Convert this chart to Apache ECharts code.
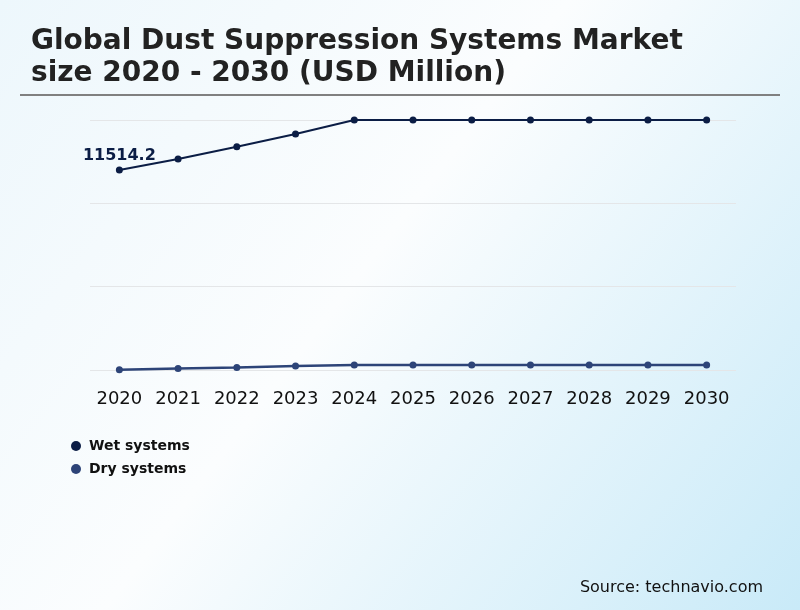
<!DOCTYPE html>
<html>
<head>
<meta charset="utf-8">
<script src="https://cdn.jsdelivr.net/npm/echarts@6/dist/echarts.min.js"></script>
<style>
html,body{margin:0;padding:0;}
#chart{width:800px;height:610px;}
</style>
</head>
<body>
<div id="chart"></div>
<script>
const years = ['2020','2021','2022','2023','2024','2025','2026','2027','2028','2029','2030'];
const wetSystems = [11514.2, 12150, 12860, 13590, 14400, 14400, 14400, 14400, 14400, 14400, 14400];
const drySystems = [20, 90, 150, 230, 290, 290, 290, 290, 290, 290, 290];
const seriesNames = ['Wet systems', 'Dry systems'];
const titleText = 'Global Dust Suppression Systems Market\nsize 2020 - 2030 (USD Million)';
const sourceText = 'Source: technavio.com';

const chart = echarts.init(document.getElementById('chart'));
const wetColor = '#0b1d45';
const dryColor = '#2d4478';

chart.setOption({
  backgroundColor: new echarts.graphic.LinearGradient(0, 0, 1, 1, [
    {offset: 0, color: '#edf7fc'},
    {offset: 0.45, color: '#fbfdfe'},
    {offset: 1, color: '#c9eaf8'}
  ]),
  textStyle: {fontFamily: 'DejaVu Sans'},
  title: {
    text: titleText,
    left: 26,
    top: 21,
    textStyle: {fontFamily: 'DejaVu Sans', fontWeight: 'bold', fontSize: 28, lineHeight: 32, color: '#222222'}
  },
  graphic: [
    {type: 'line', shape: {x1: 20, y1: 95, x2: 780, y2: 95}, style: {stroke: '#808080', lineWidth: 2}},
    {type: 'text', right: 37, top: 580, style: {text: sourceText, fontFamily: 'DejaVu Sans', fontSize: 16, fill: '#111111'}}
  ],
  legend: {
    orient: 'vertical',
    left: 66,
    top: 434,
    itemGap: 9,
    itemWidth: 16,
    itemHeight: 10,
    icon: 'circle',
    data: seriesNames,
    textStyle: {fontFamily: 'DejaVu Sans', fontWeight: 'bold', fontSize: 14, color: '#111111'}
  },
  grid: {left: 90, right: 64, top: 120, bottom: 240},
  xAxis: {
    type: 'category',
    data: years,
    boundaryGap: true,
    axisLine: {show: false},
    axisTick: {show: false},
    axisLabel: {interval: 0, fontSize: 18, color: '#111111', margin: 20, fontFamily: 'DejaVu Sans'}
  },
  yAxis: {
    type: 'value',
    min: 0,
    max: 14400,
    interval: 4800,
    axisLabel: {show: false},
    axisLine: {show: false},
    axisTick: {show: false},
    splitLine: {lineStyle: {color: '#e4e6e8', width: 1}}
  },
  series: [
    {
      name: seriesNames[0],
      type: 'line',
      data: wetSystems.map((v, i) => i === 0 ? {value: v, label: {show: true, position: 'top', distance: 3, formatter: '{c}', fontWeight: 'bold', fontSize: 16, color: wetColor, fontFamily: 'DejaVu Sans'}} : v),
      symbol: 'circle',
      symbolSize: 7,
      itemStyle: {color: wetColor},
      lineStyle: {color: wetColor, width: 2},
      label: {show: false}
    },
    {
      name: seriesNames[1],
      type: 'line',
      data: drySystems,
      symbol: 'circle',
      symbolSize: 7,
      itemStyle: {color: dryColor},
      lineStyle: {color: dryColor, width: 2.5}
    }
  ]
});
</script>
</body>
</html>
